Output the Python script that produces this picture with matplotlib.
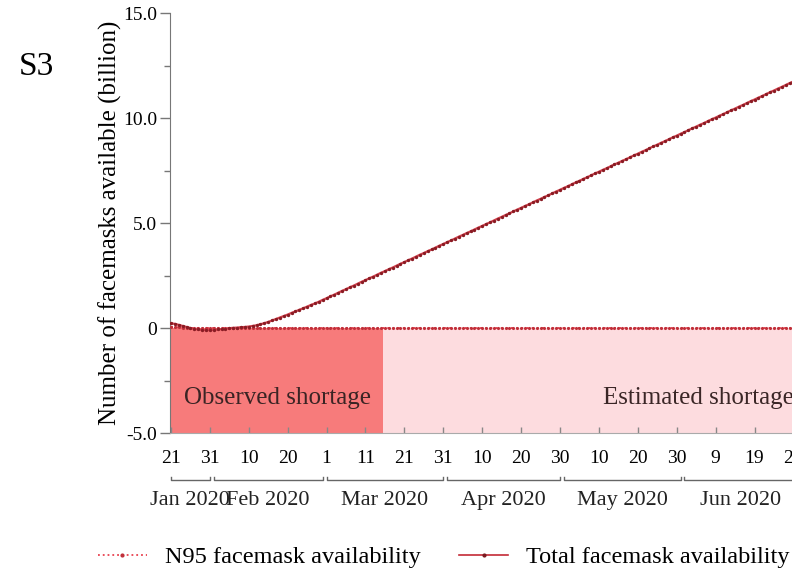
import matplotlib
matplotlib.use("Agg")
import matplotlib.pyplot as plt
import matplotlib.transforms as mtransforms
from matplotlib.lines import Line2D
import pandas as pd

plt.rcParams['font.family'] = ['Liberation Serif', 'DejaVu Serif']

# daily series, billions of facemasks, starting 21 Jan 2020
start_date = "2020-01-21"
total_avail = [
    0.22, 0.20, 0.15, 0.10, 0.05, 0.00, -0.04, -0.07, -0.09, -0.10,
    -0.10, -0.09, -0.07, -0.05, -0.03, -0.01, 0.01, 0.02, 0.04, 0.05,
    0.07, 0.10, 0.13, 0.18, 0.23, 0.29, 0.36, 0.43, 0.50, 0.57,
    0.64, 0.72, 0.79, 0.87, 0.94, 1.02, 1.10, 1.17, 1.25, 1.34,
    1.42, 1.51, 1.59, 1.68, 1.77, 1.85, 1.94, 2.02, 2.11, 2.20,
    2.28, 2.37, 2.45, 2.54, 2.63, 2.71, 2.80, 2.88, 2.97, 3.06,
    3.14, 3.23, 3.31, 3.40, 3.49, 3.57, 3.66, 3.74, 3.83, 3.92,
    4.00, 4.09, 4.17, 4.26, 4.35, 4.43, 4.52, 4.60, 4.69, 4.78,
    4.86, 4.95, 5.03, 5.12, 5.21, 5.29, 5.38, 5.46, 5.55, 5.64,
    5.72, 5.81, 5.89, 5.98, 6.07, 6.15, 6.24, 6.32, 6.41, 6.50,
    6.58, 6.67, 6.75, 6.84, 6.93, 7.01, 7.10, 7.18, 7.27, 7.36,
    7.44, 7.53, 7.61, 7.70, 7.79, 7.87, 7.96, 8.04, 8.13, 8.22,
    8.30, 8.39, 8.47, 8.56, 8.65, 8.73, 8.82, 8.90, 8.99, 9.08,
    9.16, 9.25, 9.33, 9.42, 9.51, 9.59, 9.68, 9.76, 9.85, 9.94,
    10.02, 10.11, 10.19, 10.28, 10.37, 10.45, 10.54, 10.62, 10.71, 10.80,
    10.88, 10.97, 11.05, 11.14, 11.23, 11.31, 11.40, 11.48, 11.57, 11.66,
    11.74, 11.83,
]
n95_avail = [0.06, 0.05, 0.03, 0.02, 0.01] + [0.0] * 157

observed_end = "2020-03-15 12:00"
axis_start = "2020-01-20 17:00"
axis_end = "2020-06-30"

tick_dates = ["2020-01-21", "2020-01-31", "2020-02-10", "2020-02-20", "2020-03-01",
              "2020-03-11", "2020-03-21", "2020-03-31", "2020-04-10", "2020-04-20",
              "2020-04-30", "2020-05-10", "2020-05-20", "2020-05-30", "2020-06-09",
              "2020-06-19", "2020-06-29"]
months = ["Jan 2020", "Feb 2020", "Mar 2020", "Apr 2020", "May 2020", "Jun 2020"]
month_first = ["2020-01-21", "2020-02-01", "2020-03-01", "2020-04-01", "2020-05-01", "2020-06-01"]
month_last = ["2020-01-31", "2020-02-29", "2020-03-31", "2020-04-30", "2020-05-31", "2020-06-30"]

dates = pd.date_range(start_date, periods=len(total_avail), freq="D")

fig = plt.figure(figsize=(7.92, 5.74), dpi=100)
ax = fig.add_axes([0.2144, 0.2456, 0.7923, 0.7317])

x0, x1 = pd.Timestamp(axis_start), pd.Timestamp(axis_end)
xo = pd.Timestamp(observed_end)

# shortage shading below zero
ax.fill_between([x0, xo], -5, 0, color="#f77b7b", lw=0, zorder=0)
ax.fill_between([xo, x1], -5, 0, color="#fddcdf", lw=0, zorder=0)

ax.plot(dates, n95_avail, ls=":", lw=1.4, color="#e8414f", marker=".", ms=2.5,
        mfc="#c0303a", mec="#c0303a", zorder=3)
ax.plot(dates, total_avail, ls="-", lw=1.6, color="#d0404c", marker=".", ms=2.8,
        mfc="#8a1c24", mec="#8a1c24", zorder=4)

ax.set_xlim(x0, x1)
ax.set_ylim(-5, 15)

ax.set_yticks([-5, 0, 5, 10, 15])
ax.set_yticklabels(["-5.0", "0", "5.0", "10.0", "15.0"])
ax.set_yticks([-2.5, 2.5, 7.5, 12.5], minor=True)
ax.tick_params(axis="y", which="major", direction="out", length=7, width=1,
               color="#777777", labelsize=14, pad=2)
ax.tick_params(axis="y", which="minor", direction="out", length=4, width=1,
               color="#777777")

ticks = pd.to_datetime(tick_dates)
ax.set_xticks(ticks)
ax.set_xticklabels([str(t.day) for t in ticks])
ax.tick_params(axis="x", direction="in", length=4, width=1, color="#888888",
               labelsize=14, pad=12)

for side in ["top", "right"]:
    ax.spines[side].set_visible(False)
ax.spines["left"].set_color("#777777")
ax.spines["bottom"].set_color("#aaaaaa")
ax.spines["bottom"].set_linewidth(0.8)

ax.set_ylabel("Number of facemasks available (billion)", fontsize=18, labelpad=1)

# month brackets under the day ticks
trans = mtransforms.blended_transform_factory(ax.transData, ax.transAxes)
yb, cap = -0.112, 0.008
for name, a, b in zip(months, month_first, month_last):
    a, b = pd.Timestamp(a), pd.Timestamp(b)
    ax.plot([a, a, b, b], [yb + cap, yb, yb, yb + cap], color="#666666", lw=1,
            transform=trans, clip_on=False)
    ax.text(a + (b - a) / 2, -0.16, name, transform=trans, ha="center", va="center",
            fontsize=16, color="#222222")

# shortage labels inside the shaded bands
band = mtransforms.blended_transform_factory(ax.transAxes, ax.transData)
ax.text(0.171, -3.33, "Observed shortage", transform=band,
        ha="center", va="center", fontsize=18, color="#3a2424")
ax.text(0.690, -3.33, "Estimated shortage", transform=band,
        ha="left", va="center", fontsize=18, color="#3a2626")

fig.text(36 / 792, 1 - 67 / 574, "S3", fontsize=24, ha="center", va="center")

handles = [
    Line2D([], [], ls=":", lw=1.3, color="#e8414f", marker=".", ms=4,
           mfc="#c0303a", mec="#c0303a"),
    Line2D([], [], ls="-", lw=1.2, color="#c42a36", marker=".", ms=4,
           mfc="#7a1a20", mec="#7a1a20"),
]
fig.legend(handles, ["N95 facemask availability", "Total facemask availability"],
           loc="center left", bbox_to_anchor=(98 / 792, 1 - 557 / 574),
           ncol=2, frameon=False, fontsize=17.5, handlelength=2.0,
           handletextpad=0.75, columnspacing=1.6, borderpad=0, borderaxespad=0)

fig.savefig("out.png", dpi=100)
